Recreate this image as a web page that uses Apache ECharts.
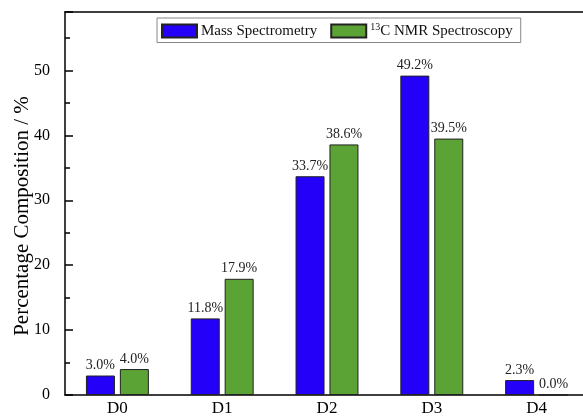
<!DOCTYPE html>
<html>
<head>
<meta charset="utf-8">
<script src="https://cdn.jsdelivr.net/npm/echarts@6/dist/echarts.min.js"></script>
<style>
  html, body { margin: 0; padding: 0; background: #fff; }
  #chart { width: 583px; height: 418px; }
</style>
</head>
<body>
<div id="chart"></div>
<script>
// Deuterium isotopologue distribution, two measurement methods
const categories = ['D0', 'D1', 'D2', 'D3', 'D4'];
const massSpec = [3.0, 11.8, 33.7, 49.2, 2.3];
const nmrSpec = [4.0, 17.9, 38.6, 39.5, 0.0];
const seriesNames = ['Mass Spectrometry', '13C NMR Spectroscopy'];

const serif = '"Liberation Serif", "Times New Roman", serif';

const chart = echarts.init(document.getElementById('chart'), null, { renderer: 'canvas' });

const labelOpt = {
  show: true,
  position: 'top',
  distance: 3,
  fontFamily: serif,
  fontSize: 14,
  color: '#222',
  formatter: p => p.value.toFixed(1) + '%'
};

chart.setOption({
  animation: false,
  backgroundColor: '#fff',
  grid: { left: 65, top: 12, bottom: 23, right: -6, containLabel: false, outerBoundsMode: 'none' },
  legend: {
    left: 157,
    top: 18,
    padding: [4, 8, 4, 4],
    itemGap: 13,
    itemWidth: 35,
    itemHeight: 13,
    borderColor: '#888',
    borderWidth: 1,
    selectedMode: false,
    icon: 'rect',
    data: seriesNames,
    formatter: name => name.indexOf('13C') === 0 ? '{sup|13}C' + name.slice(3) : name,
    textStyle: {
      fontFamily: serif,
      fontSize: 15,
      color: '#111',
      padding: [0, 0, 0, -1],
      rich: {
        sup: { fontFamily: serif, fontSize: 10, verticalAlign: 'top', padding: [0, 0, 8, 0], color: '#111' }
      }
    }
  },
  xAxis: [{
    type: 'category',
    data: categories,
    position: 'bottom',
    axisLine: { lineStyle: { color: '#000', width: 1.5 } },
    axisTick: { show: false },
    axisLabel: { fontFamily: serif, fontSize: 17, color: '#000', margin: 5 }
  }, {
    type: 'category',
    data: categories,
    position: 'top',
    axisLine: { lineStyle: { color: '#000', width: 1.5 } },
    axisTick: { show: false },
    axisLabel: { show: false }
  }],
  yAxis: {
    type: 'value',
    min: 0,
    max: 59,
    interval: 10,
    name: 'Percentage Composition / %',
    nameLocation: 'middle',
    nameGap: 32,
    nameMoveOverlap: false,
    nameTextStyle: { fontFamily: serif, fontSize: 21, color: '#000', padding: [0, 0, 0, -25] },
    axisLine: { show: true, lineStyle: { color: '#000', width: 1.5 } },
    axisTick: { show: true, inside: true, length: 8, lineStyle: { color: '#000', width: 1.5 } },
    minorTick: { show: true, splitNumber: 2, length: 5, lineStyle: { color: '#000', width: 1.5 } },
    splitLine: { show: false },
    axisLabel: { fontFamily: serif, fontSize: 16, color: '#000', margin: 15, showMaxLabel: false }
  },
  series: [{
    name: seriesNames[0],
    type: 'bar',
    data: massSpec,
    barWidth: 29,
    barGap: '17%',
    itemStyle: { color: '#2400f8', borderColor: '#222', borderWidth: 1 },
    label: labelOpt
  }, {
    name: seriesNames[1],
    type: 'bar',
    data: nmrSpec,
    barWidth: 29,
    barGap: '17%',
    itemStyle: { color: '#5ba335', borderColor: '#222', borderWidth: 1 },
    label: labelOpt
  }]
});
</script>
</body>
</html>
